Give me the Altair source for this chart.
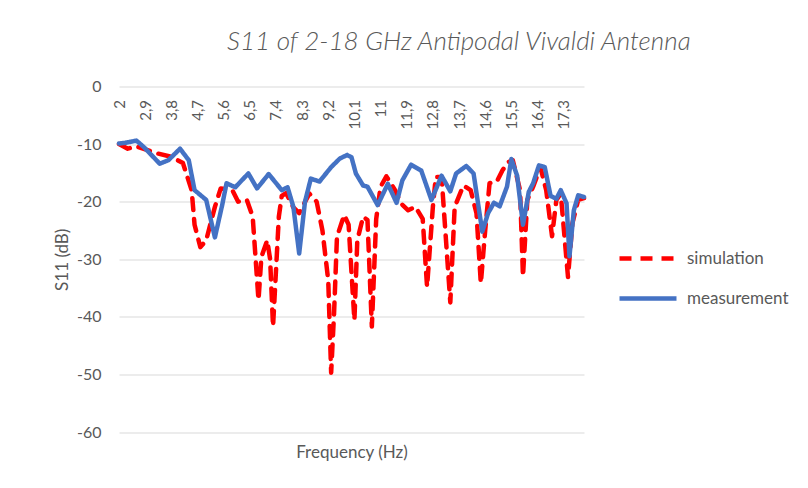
import altair as alt
import pandas as pd

# ---- data ----
sim_freq = [2.0, 2.3, 2.6, 3.3, 3.8, 4.2, 4.5, 4.6, 4.8, 5.0, 5.3, 5.5, 5.9, 6.1, 6.4, 6.6,
            6.8, 6.9, 7.1, 7.2, 7.3, 7.5, 7.6, 7.75, 8.0, 8.2, 8.55, 8.8, 9.0, 9.2, 9.3, 9.4,
            9.5, 9.75, 9.9, 10.1, 10.2, 10.4, 10.55, 10.7, 10.85, 11.0, 11.2, 11.5, 11.7, 11.95,
            12.2, 12.45, 12.6, 12.8, 12.9, 13.1, 13.4, 13.55, 13.85, 14.1, 14.3, 14.45, 14.6,
            14.75, 15.0, 15.2, 15.4, 15.55, 15.8, 15.9, 16.05, 16.25, 16.5, 16.7, 16.9, 17.05,
            17.2, 17.45, 17.6, 17.8, 18.0]
sim_db = [-10.0, -10.8, -10.4, -11.6, -12.2, -13.3, -18.0, -24.0, -27.9, -26.7, -20.9, -17.7,
          -18.0, -20.0, -19.7, -22.6, -37.1, -29.6, -26.7, -30.0, -41.7, -22.6, -19.0, -18.5,
          -21.0, -22.0, -18.6, -20.0, -25.0, -33.7, -49.7, -39.4, -26.1, -22.3, -24.0, -40.6,
          -26.7, -22.6, -23.2, -41.7, -23.0, -17.4, -15.6, -18.0, -20.3, -21.5, -20.9, -23.0,
          -34.8, -20.9, -15.7, -15.7, -37.5, -20.9, -17.2, -18.0, -22.0, -34.2, -25.0, -16.8,
          -16.5, -14.5, -13.1, -12.8, -18.0, -33.0, -19.7, -17.4, -14.0, -18.0, -26.0, -19.7,
          -18.6, -33.1, -23.8, -19.7, -19.4]

meas_freq = [2.0, 2.2, 2.6, 2.85, 3.4, 3.7, 4.1, 4.4, 4.6, 5.0, 5.3, 5.55, 5.7, 6.0, 6.45,
             6.75, 7.15, 7.6, 7.8, 8.0, 8.2, 8.4, 8.6, 8.9, 9.3, 9.6, 9.85, 10.0, 10.15, 10.4,
             10.55, 10.9, 11.25, 11.55, 11.75, 12.05, 12.4, 12.75, 13.1, 13.4, 13.6, 13.95,
             14.2, 14.5, 14.7, 14.9, 15.1, 15.35, 15.5, 15.7, 15.9, 16.1, 16.25, 16.45, 16.65,
             16.85, 17.05, 17.2, 17.4, 17.5, 17.65, 17.8, 18.0]
meas_db = [-9.9, -9.8, -9.4, -10.5, -13.4, -12.8, -10.8, -12.8, -18.0, -19.7, -26.2, -20.6,
           -16.8, -17.5, -15.1, -17.7, -15.2, -18.0, -17.5, -20.9, -29.0, -20.0, -16.0, -16.5,
           -14.0, -12.5, -11.9, -12.3, -15.1, -17.2, -17.4, -20.6, -16.9, -20.2, -16.3, -13.6,
           -14.6, -19.7, -15.5, -18.2, -15.1, -13.8, -15.1, -25.2, -22.0, -20.2, -20.8, -17.4,
           -12.6, -15.5, -24.0, -18.3, -16.8, -13.7, -14.0, -19.0, -19.5, -18.0, -20.3, -29.5,
           -21.5, -18.9, -19.2]

series_names = ["simulation", "measurement"]
series_colors = ["#FF0000", "#4472C4"]
x_ticks = [2, 2.9, 3.8, 4.7, 5.6, 6.5, 7.4, 8.3, 9.2, 10.1, 11, 11.9, 12.8, 13.7, 14.6,
           15.5, 16.4, 17.3]
y_ticks = [-60, -50, -40, -30, -20, -10, 0]

sim_df = pd.DataFrame({"series": "simulation", "freq": sim_freq, "db": sim_db})
meas_df = pd.DataFrame({"series": "measurement", "freq": meas_freq, "db": meas_db})

GRAY = "#595959"
FONT = "Lato"
W, H = 465, 345.5

x_enc = alt.X(
    "freq:Q",
    scale=alt.Scale(domain=[2, 18], nice=False, zero=False),
    axis=alt.Axis(
        orient="bottom", offset=-H, values=x_ticks,
        labelExpr="replace(format(datum.value, '.1~f'), '.', ',')",
        labelAngle=270, labelFontSize=15, labelColor=GRAY, labelFont=FONT,
        labelPadding=13, domain=False, ticks=False, grid=False,
        title="Frequency (Hz)", titleY=H + 20, titleBaseline="middle",
        titleFontSize=17, titleColor=GRAY, titleFont=FONT, titleFontWeight="normal",
    ),
)
y_enc = alt.Y(
    "db:Q",
    scale=alt.Scale(domain=[-60, 0], nice=False),
    axis=alt.Axis(
        values=y_ticks, grid=True, gridColor="#d9d9d9", gridWidth=1,
        domain=False, ticks=False, labelFontSize=16, labelColor=GRAY,
        labelFont=FONT, labelPadding=18, labelExpr="toString(datum.value)",
        title="S11 (dB)", titleFontSize=17, titleColor=GRAY, titleFont=FONT,
        titleFontWeight="normal", titlePadding=5,
    ),
)
legend_opts = dict(
    orient="none", legendX=498, legendY=141, title=None,
    labelFontSize=17, labelColor=GRAY, labelFont=FONT,
    symbolType="stroke", symbolSize=3249, symbolStrokeWidth=4.5,
    rowPadding=-22, labelOffset=8,
)
color_enc = alt.Color(
    "series:N",
    scale=alt.Scale(domain=series_names, range=series_colors),
    legend=alt.Legend(**legend_opts),
)
dash_enc = alt.StrokeDash(
    "series:N",
    scale=alt.Scale(domain=series_names, range=[[12, 9], [1, 0]]),
    legend=alt.Legend(**legend_opts),
)

sim_line = alt.Chart(sim_df).mark_line(strokeWidth=4.5, strokeCap="round", strokeJoin="round").encode(
    x=x_enc, y=y_enc, color=color_enc, strokeDash=dash_enc
)
meas_line = alt.Chart(meas_df).mark_line(strokeWidth=4.5, strokeCap="round", strokeJoin="round").encode(
    x=x_enc, y=y_enc, color=color_enc, strokeDash=dash_enc
)

chart = (
    alt.layer(sim_line, meas_line)
    .properties(
        width=W, height=H,
        view=alt.ViewBackground(stroke="transparent", strokeWidth=0),
        autosize=alt.AutoSizeParams(type="none"),
        padding={"left": 111, "top": 78.5, "right": 216, "bottom": 48},
        title=alt.TitleParams(
            "S11 of 2-18 GHz Antipodal Vivaldi Antenna",
            anchor="start", frame="group", dx=108, offset=24,
            fontSize=26, font=FONT, fontStyle="italic", fontWeight=300, color=GRAY,
        ),
    )
    .configure_view(stroke="transparent", strokeWidth=0)
    .configure_axisX(grid=False, domain=False, ticks=False)
    .configure_axisY(domain=False, ticks=False)
    .configure(background="white")
)

chart.save("out.html", embed_options={"renderer": "svg", "actions": False})
